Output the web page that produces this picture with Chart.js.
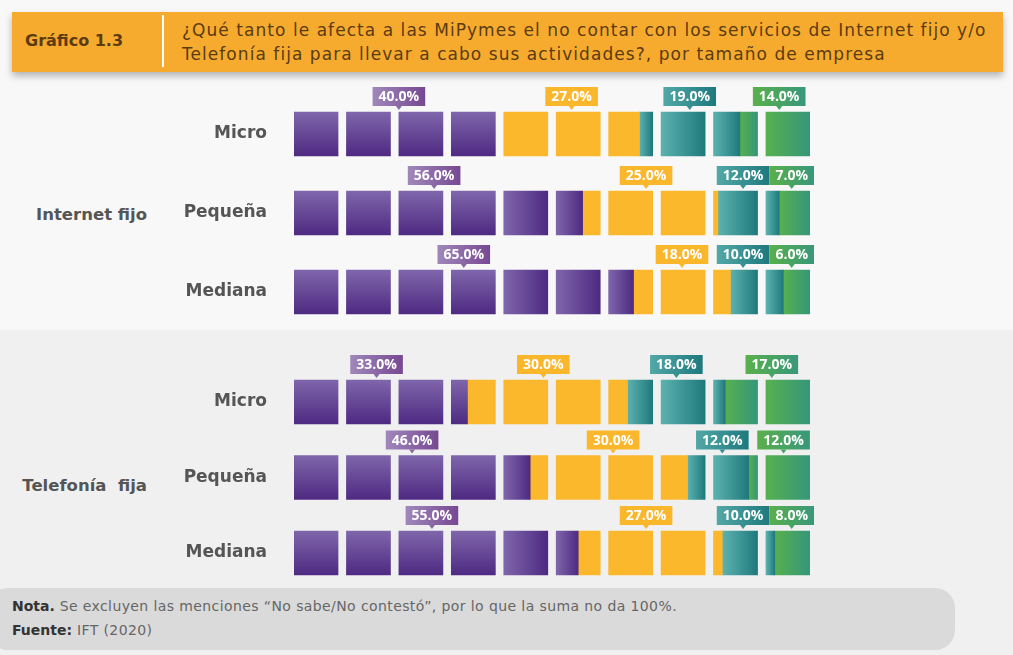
<!DOCTYPE html>
<html>
<head>
<meta charset="utf-8">
<script src="https://cdn.jsdelivr.net/npm/chart.js@4.4.1/dist/chart.umd.min.js"></script>
<style>
  html, body { margin: 0; padding: 0; }
  body { width: 1013px; height: 655px; position: relative; overflow: hidden; background: #f8f8f8; font-family: "DejaVu Sans", sans-serif; }
  .band2 { position: absolute; left: 0; top: 330px; width: 1013px; height: 325px; background: #f0f0f0; }
  .header { position: absolute; left: 12px; top: 12px; width: 991px; height: 60px; background: #f6ab2f; box-shadow: 0 4px 7px rgba(0,0,0,0.28); color: #5b3b12; }
  .header .num { position: absolute; left: 13px; top: 19px; font-weight: 700; font-size: 16px; }
  .header .sep { position: absolute; left: 150px; top: 3px; width: 2px; height: 52px; background: #fff; }
  .header .title { position: absolute; left: 170px; top: 6px; font-size: 17px; line-height: 24px; letter-spacing: 1.05px; white-space: nowrap; }
  .group { position: absolute; right: calc(1013px - 147px); font-weight: 700; font-size: 16.5px; color: #555; white-space: pre; }
  .wrap { position: absolute; left: 0; width: 840px; height: 258px; }
  .footer { position: absolute; left: -12px; top: 588px; width: 967px; height: 62px; background: #dadada; border-radius: 20px; }
  .footer p { margin: 0; position: absolute; left: 24px; font-size: 14px; letter-spacing: 0.4px; color: #666; white-space: nowrap; }
  .footer b { color: #333; letter-spacing: 0; }
</style>
</head>
<body>
<div class="band2"></div>
<div class="header">
  <div class="num">Gráfico 1.3</div>
  <div class="sep"></div>
  <div class="title">¿Qué tanto le afecta a las MiPymes el no contar con los servicios de Internet fijo y/o<br>Telefonía fija para llevar a cabo sus actividades?, por tamaño de empresa</div>
</div>
<div class="group" style="top:205px">Internet fijo</div>
<div class="group" style="top:476px">Telefonía  fija</div>
<div class="wrap" style="top:75px"><canvas id="chartInternet"></canvas></div>
<div class="wrap" style="top:333px"><canvas id="chartTelefonia"></canvas></div>
<div class="footer">
  <p style="top:10px"><b>Nota.</b> Se excluyen las menciones “No sabe/No contestó”, por lo que la suma no da 100%.</p>
  <p style="top:34px"><b>Fuente:</b> IFT (2020)</p>
</div>
<script>
// company sizes (rows of each block)
const sizes = ['Micro', 'Pequeña', 'Mediana'];

// Internet fijo, one value per size
const internetPurple = [40, 56, 65];
const internetYellow = [27, 25, 18];
const internetTeal = [19, 12, 10];
const internetGreen = [14, 7, 6];

// Telefonía fija, one value per size
const telefPurple = [33, 46, 55];
const telefYellow = [30, 30, 27];
const telefTeal = [18, 12, 10];
const telefGreen = [17, 12, 8];

// colours of each series: square fill and label box
const seriesStyles = [
  { from: '#7f66ab', to: '#4e2a82', boxFrom: '#a088bb', boxTo: '#774892' },
  { flat: '#fbb82d', boxFrom: '#fbb72c', boxTo: '#fbb72c' },
  { from: '#5cb2af', to: '#1f797c', boxFrom: '#52a8a6', boxTo: '#1e797e' },
  { from: '#57b04e', to: '#35967a', boxFrom: '#5ab04b', boxTo: '#38987a' }
];

const PITCH = 52.4 / 44; // one square + gap, measured in square widths
const SQUARE = 44;

// position inside square k of a percentage p
function toU(k, p) {
    return k * PITCH + (p - 10 * k) / 10;
}

// shares scaled so that each row fills the ten squares
function shares(vals) {
    const total = vals.reduce((a, b) => a + b, 0);
    let start = 0;
    return vals.map(v => {
        const seg = { start: start, end: start + v / total * 100, value: v };
        start = seg.end;
        return seg;
    });
}

function squareFill(ctx, s, k) {
    const st = seriesStyles[s];
    const chart = ctx.chart;
    if (st.flat) return st.flat;
    if (!chart.chartArea || !ctx.raw) return st.from;
    const cy = chart.scales.y.getPixelForValue(ctx.dataIndex);
    let g;
    if (s === 0 && k < 4) {
        g = chart.ctx.createLinearGradient(0, cy - SQUARE / 2, 0, cy + SQUARE / 2);
    } else {
        g = chart.ctx.createLinearGradient(chart.scales.x.getPixelForValue(ctx.raw[0]), 0,
                                           chart.scales.x.getPixelForValue(ctx.raw[1]), 0);
    }
    g.addColorStop(0, st.from);
    g.addColorStop(1, st.to);
    return g;
}

function buildDatasets(rows) {
    const sets = [];
    seriesStyles.forEach((st, s) => {
        for (let k = 0; k < 10; k++) {
            const data = rows.map(vals => {
                const seg = shares(vals)[s];
                const a = Math.max(seg.start, 10 * k);
                const b = Math.min(seg.end, 10 * k + 10);
                if (b - a < 0.05) return null;
                return [toU(k, a), toU(k, b)];
            });
            sets.push({
                data: data,
                backgroundColor: ctx => squareFill(ctx, s, k),
                barThickness: SQUARE,
                grouped: false,
                borderWidth: 0,
                borderSkipped: false
            });
        }
    });
    return sets;
}

// percentage boxes above each row
const pctLabels = {
    id: 'pctLabels',
    afterDatasetsDraw(chart, args, opts) {
        const c = chart.ctx;
        const xs = chart.scales.x, ys = chart.scales.y;
        c.save();
        c.font = '700 14px "Open Sans"';
        opts.rows.forEach((vals, r) => {
            const cy = ys.getPixelForValue(r);
            const boxes = shares(vals).map((seg, s) => {
                const mid = (seg.start + seg.end) / 2;
                const k = Math.min(9, Math.floor(mid / 10));
                const text = seg.value.toFixed(1) + '%';
                const w = c.measureText(text).width + 12;
                const x = xs.getPixelForValue(toU(k, mid));
                return { s: s, text: text, w: w, left: x - w / 2 };
            });
            for (let i = 1; i < boxes.length; i++) {
                const prev = boxes[i - 1];
                if (boxes[i].left < prev.left + prev.w + 1) boxes[i].left = prev.left + prev.w + 1;
            }
            const limit = chart.chartArea.right + 4;
            const last = boxes[boxes.length - 1];
            if (last.left + last.w > limit) last.left = limit - last.w;
            for (let i = boxes.length - 2; i >= 0; i--) {
                const next = boxes[i + 1];
                if (boxes[i].left + boxes[i].w > next.left) boxes[i].left = next.left - boxes[i].w;
            }
            boxes.forEach(b => {
                const st = seriesStyles[b.s];
                const top = cy - 47, h = 19, cx = b.left + b.w / 2;
                const g = c.createLinearGradient(b.left, 0, b.left + b.w, 0);
                g.addColorStop(0, st.boxFrom);
                g.addColorStop(1, st.boxTo);
                c.fillStyle = g;
                c.fillRect(b.left, top, b.w, h);
                c.beginPath();
                c.moveTo(cx - 3, top + h);
                c.lineTo(cx + 3, top + h);
                c.lineTo(cx, top + h + 4);
                c.closePath();
                c.fill();
                c.fillStyle = '#ffffff';
                c.textAlign = 'center';
                c.textBaseline = 'middle';
                c.fillText(b.text, cx, top + h / 2 + 1);
            });
        });
        c.restore();
    }
};

function makeChart(id, rows, padTop, padBottom) {
    return new Chart(document.getElementById(id), {
        type: 'bar',
        data: { labels: sizes, datasets: buildDatasets(rows) },
        options: {
            indexAxis: 'y',
            responsive: true,
            maintainAspectRatio: false,
            animation: false,
            layout: { padding: { top: padTop, bottom: padBottom, left: 0, right: 30 } },
            scales: {
                x: { display: false, min: 0, max: 9 * PITCH + 1 },
                y: {
                    afterFit: scale => {
                        scale.width = 294;
                        scale.paddingTop = 0;
                        scale.paddingBottom = 0;
                    },
                    grid: { display: false },
                    border: { display: false },
                    ticks: { padding: 19, color: '#555', font: { family: 'DejaVu Sans', size: 17, weight: '700' } }
                }
            },
            plugins: {
                legend: { display: false },
                tooltip: { enabled: false },
                pctLabels: { rows: rows }
            }
        },
        plugins: [pctLabels]
    });
}

const internetRows = sizes.map((_, i) => [internetPurple[i], internetYellow[i], internetTeal[i], internetGreen[i]]);
const telefRows = sizes.map((_, i) => [telefPurple[i], telefYellow[i], telefTeal[i], telefGreen[i]]);

makeChart('chartInternet', internetRows, 19.5, 1.5);
makeChart('chartTelefonia', telefRows, 31.25, 0.25);
</script>
</body>
</html>
